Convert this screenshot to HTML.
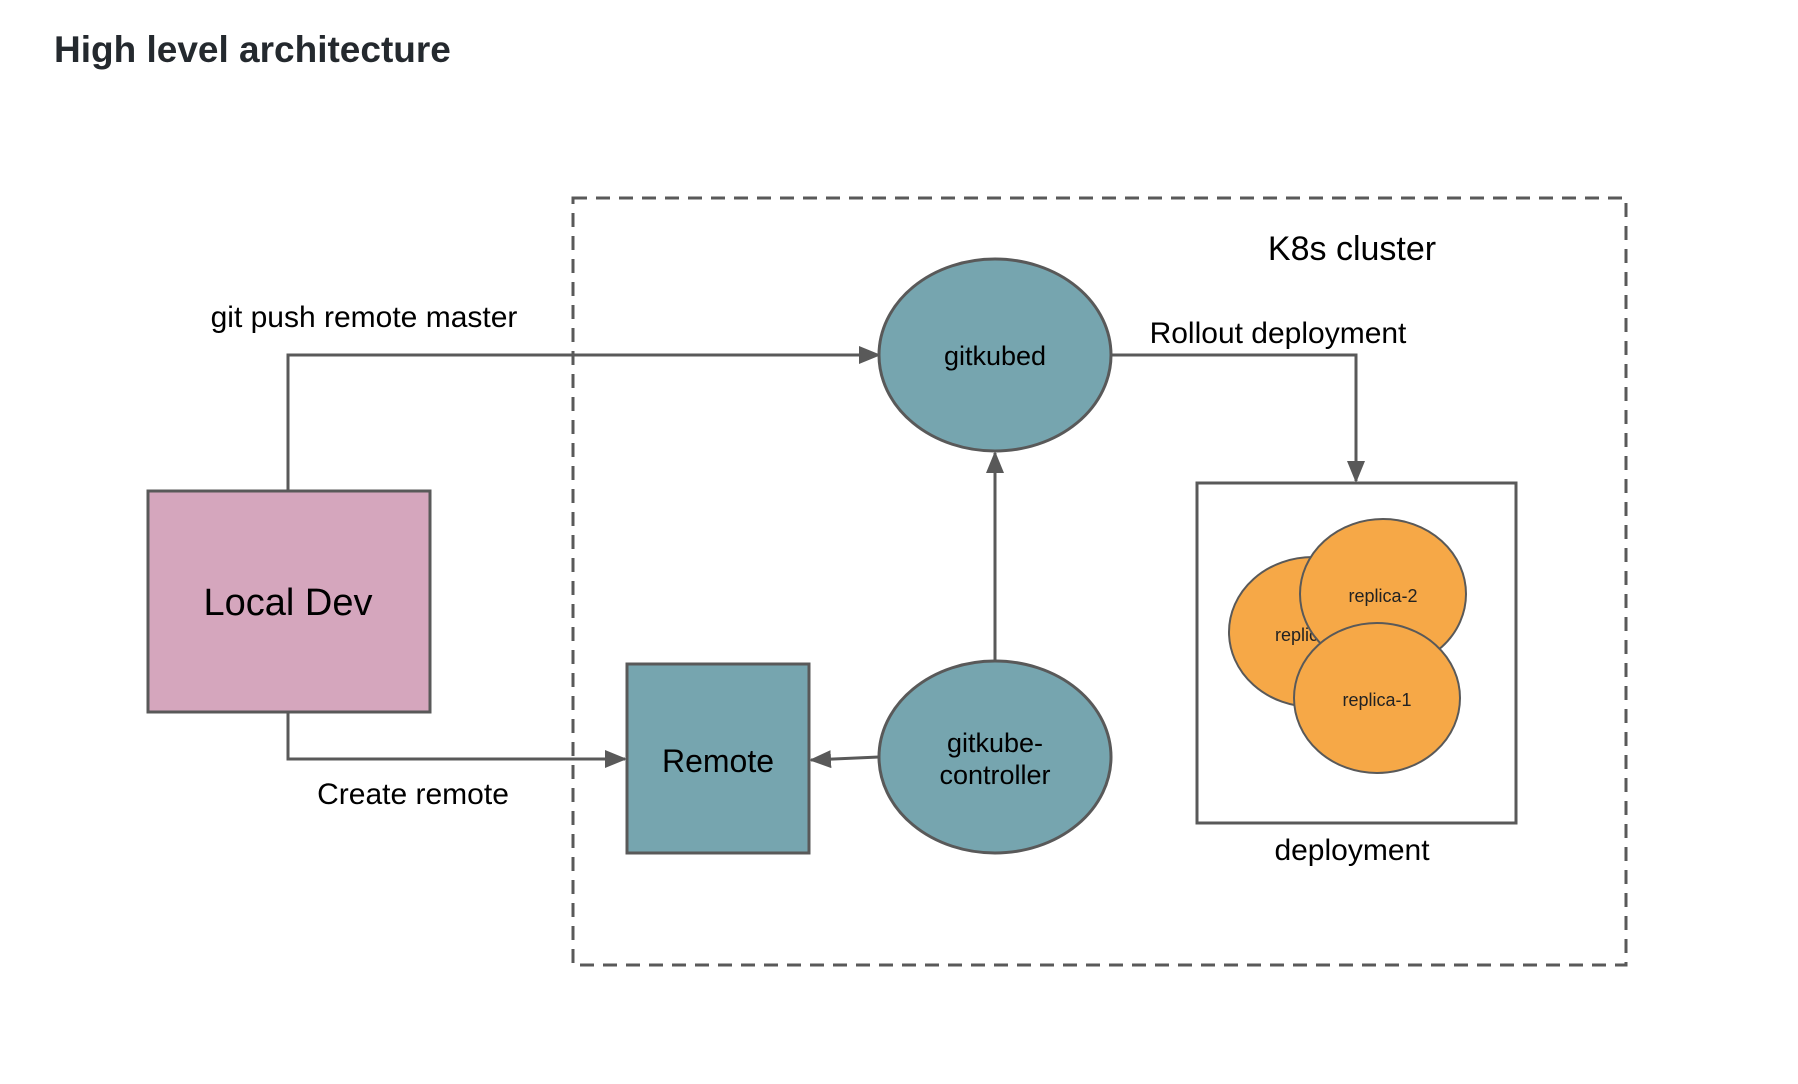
<!DOCTYPE html>
<html><head><meta charset="utf-8"><style>
html,body{margin:0;padding:0;background:#fff;width:1798px;height:1084px;overflow:hidden}
</style></head><body>
<svg width="1798" height="1084" viewBox="0 0 1798 1084" xmlns="http://www.w3.org/2000/svg" font-family="'Comic Sans MS','Liberation Sans',sans-serif">
<defs>
<marker id="b" markerWidth="22" markerHeight="18" refX="20" refY="9" orient="auto" markerUnits="userSpaceOnUse"><path d="M0,0 L22,9 L0,18 z" fill="#595959"/></marker></defs>
<text x="54" y="62" font-family="'Liberation Sans',sans-serif" font-size="37" font-weight="600" fill="#24292e">High level architecture</text>
<rect x="573" y="198" width="1053" height="767" fill="none" stroke="#595959" stroke-width="3" stroke-dasharray="14,9"/>
<text x="1352" y="260" font-size="34" text-anchor="middle" fill="#000">K8s cluster</text>
<g stroke="#595959" stroke-width="3" fill="none">
<path d="M288,491 V355 H879" marker-end="url(#b)"/>
<path d="M1111,355 H1356 V481" marker-end="url(#b)"/>
<path d="M995,661 V453" marker-end="url(#b)"/>
<path d="M879,757 L811,760" marker-end="url(#b)"/>
<path d="M288,712 V759 H625" marker-end="url(#b)"/>
</g>
<rect x="148" y="491" width="282" height="221" fill="#d5a6bd" stroke="#595959" stroke-width="3"/>
<rect x="627" y="664" width="182" height="189" fill="#76a5af" stroke="#595959" stroke-width="3"/>
<ellipse cx="995" cy="355" rx="116" ry="96" fill="#76a5af" stroke="#595959" stroke-width="3"/>
<ellipse cx="995" cy="757" rx="116" ry="96" fill="#76a5af" stroke="#595959" stroke-width="3"/>
<rect x="1197" y="483" width="319" height="340" fill="#fff" stroke="#595959" stroke-width="3"/>
<ellipse cx="1313" cy="632" rx="84" ry="75" fill="#f6a847" stroke="#595959" stroke-width="2"/>
<text x="1275" y="641" font-size="18" fill="#222">replica-3</text>
<ellipse cx="1383" cy="594" rx="83" ry="75" fill="#f6a847" stroke="#595959" stroke-width="2"/>
<text x="1383" y="602" font-size="18" text-anchor="middle" fill="#222">replica-2</text>
<ellipse cx="1377" cy="698" rx="83" ry="75" fill="#f6a847" stroke="#595959" stroke-width="2"/>
<text x="1377" y="706" font-size="18" text-anchor="middle" fill="#222">replica-1</text>
<g fill="#000" text-anchor="middle">
<text x="288" y="615" font-size="38">Local Dev</text>
<text x="718" y="772" font-size="32">Remote</text>
<text x="995" y="365" font-size="27">gitkubed</text>
<text x="995" y="752" font-size="27">gitkube-</text>
<text x="995" y="784" font-size="27">controller</text>
<text x="364" y="327" font-size="30">git push remote master</text>
<text x="1278" y="343" font-size="30">Rollout deployment</text>
<text x="413" y="804" font-size="30">Create remote</text>
<text x="1352" y="860" font-size="30">deployment</text>
</g>
</svg>
</body></html>
